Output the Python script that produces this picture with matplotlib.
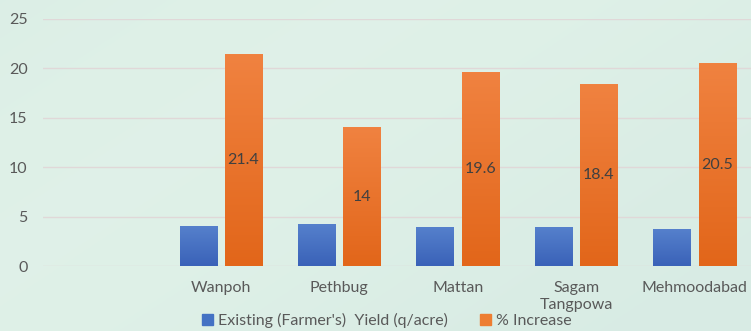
import matplotlib
matplotlib.use("Agg")
import matplotlib.pyplot as plt
import numpy as np
from matplotlib.patches import Patch

categories = ["", "Wanpoh", "Pethbug", "Mattan", "Sagam\nTangpowa", "Mehmoodabad"]
existing_yield = [np.nan, 4.0, 4.15, 3.9, 3.9, 3.65]
pct_increase = [np.nan, 21.4, 14, 19.6, 18.4, 20.5]
pct_labels = ["", "21.4", "14", "19.6", "18.4", "20.5"]
yticks = [0, 5, 10, 15, 20, 25]

plt.rcParams['font.family'] = ['Lato', 'DejaVu Sans']
txt = '#595959'
fs = 11.5

fig = plt.figure(figsize=(7.51, 3.31), dpi=100)
# background gradient
bg = fig.add_axes([0, 0, 1, 1], zorder=-10)
yy, xx = np.mgrid[0:1:200j, 0:1:400j]
g = 0.5 + 0.5 * np.sin(xx * 3 + yy * 2)
c1 = np.array([0.875, 0.945, 0.910])
c2 = np.array([0.850, 0.925, 0.895])
img = c1[None, None, :] * g[..., None] + c2[None, None, :] * (1 - g[..., None])
bg.imshow(img, aspect='auto', extent=[0, 1, 0, 1])
bg.axis('off')

ax = fig.add_axes([0.057, 0.196, 0.943, 0.747])
ax.patch.set_alpha(0)
x = np.arange(len(categories))
w = 0.3125
off = 0.192
b1 = ax.bar(x - off, existing_yield, w, color='#4472C4', zorder=3)
b2 = ax.bar(x + off, pct_increase, w, color='#ED7D31', zorder=3)

# subtle vertical gradient on bars
for bars, top, bot in [(b1, '#5580CC', '#3A62B8'), (b2, '#F08240', '#E2661A')]:
    for r in bars:
        h = r.get_height()
        if np.isnan(h):
            continue
        cmap = matplotlib.colors.LinearSegmentedColormap.from_list('g', [bot, top])
        grad = np.linspace(0, 1, 100)[:, None]
        ax.imshow(grad, cmap=cmap, origin='lower', aspect='auto',
                  extent=[r.get_x(), r.get_x() + r.get_width(), 0, h], zorder=3)
        r.set_visible(False)

for xi, v, lab in zip(x, pct_increase, pct_labels):
    if lab:
        ax.text(xi + off, v / 2, lab, ha='center', va='center', fontsize=fs, color='#404040', zorder=5)

ax.set_xlim(-0.503, 5.477)
ax.set_ylim(0, 25)
ax.set_yticks(yticks)
ax.set_yticklabels([str(t) for t in yticks], fontsize=fs, color=txt)
ax.set_xticks(x)
ax.set_xticklabels(categories, fontsize=fs, color=txt, linespacing=1.2)
ax.tick_params(length=0)
ax.tick_params(axis='x', pad=11)
ax.tick_params(axis='y', pad=11)
ax.grid(axis='y', color='#E0D8D8', linewidth=1, zorder=0)
for s in ax.spines.values():
    s.set_visible(False)

handles = [Patch(color='#4472C4', label="Existing (Farmer's)  Yield (q/acre)"),
           Patch(color='#ED7D31', label='% Increase')]
fig.legend(handles=handles, loc='lower center', bbox_to_anchor=(0.515, -0.035), ncol=2,
           frameon=False, fontsize=fs, labelcolor=txt, handlelength=0.7, handleheight=0.7,
           handletextpad=0.3, columnspacing=2.0)

fig.savefig('out.png', dpi=100)
